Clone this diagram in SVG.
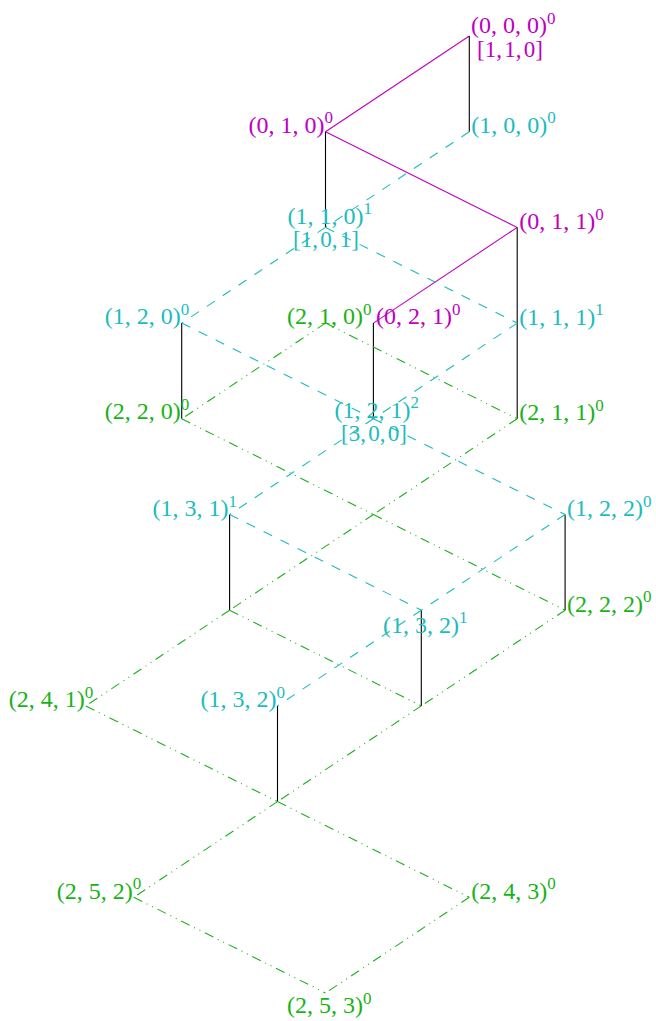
<svg xmlns="http://www.w3.org/2000/svg" width="656" height="1021" viewBox="0 0 656 1021">
<style>
.lbl{font-family:"Liberation Serif","DejaVu Serif",serif;font-size:24px}
.sup{font-size:17px}
.br{font-size:23px;word-spacing:-3.5px;text-anchor:middle}
.mag{fill:#bf00bf}
.cya{fill:#1cbcbc}
.grn{fill:#17b317}
.e{fill:none;stroke-width:1.1}
.m{stroke:#bf00bf}
.k{stroke:#000}
.c{stroke:#1cbcbc;stroke-dasharray:9.5 9.5}
.g{stroke:#17b317;stroke-dasharray:9.5 5 1 5 1 5}
</style>
<rect width="656" height="1021" fill="#fff"/>
<g id="connectors">
<line class="e m" x1="469.3" y1="36" x2="325.5" y2="131.7"/>
<line class="e m" x1="325.5" y1="131.7" x2="517.2" y2="227.4"/>
<line class="e m" x1="517.2" y1="227.4" x2="373.4" y2="323.1"/>
<line class="e k" x1="469.3" y1="36" x2="469.3" y2="131.7"/>
<line class="e k" x1="325.5" y1="131.7" x2="325.5" y2="227.4"/>
<line class="e k" x1="517.2" y1="227.4" x2="517.2" y2="323.1"/>
<line class="e k" x1="517.2" y1="323.1" x2="517.2" y2="418.8"/>
<line class="e k" x1="373.4" y1="323.1" x2="373.4" y2="418.8"/>
<line class="e k" x1="181.7" y1="323.1" x2="181.7" y2="418.8"/>
<line class="e k" x1="229.6" y1="514.5" x2="229.6" y2="610.2"/>
<line class="e k" x1="565.1" y1="514.5" x2="565.1" y2="610.2"/>
<line class="e k" x1="421.3" y1="610.2" x2="421.3" y2="705.9"/>
<line class="e k" x1="277.5" y1="705.9" x2="277.5" y2="801.6"/>
<line class="e c" x1="469.3" y1="131.7" x2="325.5" y2="227.4"/>
<line class="e c" x1="325.5" y1="227.4" x2="181.7" y2="323.1"/>
<line class="e c" x1="325.5" y1="227.4" x2="517.2" y2="323.1"/>
<line class="e c" x1="181.7" y1="323.1" x2="373.4" y2="418.8"/>
<line class="e c" x1="517.2" y1="323.1" x2="373.4" y2="418.8"/>
<line class="e c" x1="373.4" y1="418.8" x2="229.6" y2="514.5"/>
<line class="e c" x1="373.4" y1="418.8" x2="565.1" y2="514.5"/>
<line class="e c" x1="229.6" y1="514.5" x2="421.3" y2="610.2"/>
<line class="e c" x1="565.1" y1="514.5" x2="421.3" y2="610.2"/>
<line class="e c" x1="421.3" y1="610.2" x2="277.5" y2="705.9"/>
<line class="e g" x1="325.5" y1="323.1" x2="181.7" y2="418.8"/>
<line class="e g" x1="325.5" y1="323.1" x2="517.2" y2="418.8"/>
<line class="e g" x1="181.7" y1="418.8" x2="373.4" y2="514.5"/>
<line class="e g" x1="517.2" y1="418.8" x2="373.4" y2="514.5"/>
<line class="e g" x1="373.4" y1="514.5" x2="229.6" y2="610.2"/>
<line class="e g" x1="373.4" y1="514.5" x2="565.1" y2="610.2"/>
<line class="e g" x1="229.6" y1="610.2" x2="85.8" y2="705.9"/>
<line class="e g" x1="229.6" y1="610.2" x2="421.3" y2="705.9"/>
<line class="e g" x1="565.1" y1="610.2" x2="421.3" y2="705.9"/>
<line class="e g" x1="85.8" y1="705.9" x2="277.5" y2="801.6"/>
<line class="e g" x1="421.3" y1="705.9" x2="277.5" y2="801.6"/>
<line class="e g" x1="277.5" y1="801.6" x2="133.7" y2="897.3"/>
<line class="e g" x1="277.5" y1="801.6" x2="469.3" y2="897.3"/>
<line class="e g" x1="133.7" y1="897.3" x2="325.5" y2="993"/>
<line class="e g" x1="469.3" y1="897.3" x2="325.5" y2="993"/>
</g>
<g id="n000" class="lbl mag"><text x="471" y="33">(0, 0, 0)<tspan class="sup" dy="-9.5">0</tspan></text><text class="br" x="510" y="56.7">[1, 1, 0]</text></g>
<g id="n010" class="lbl mag"><text x="248.5" y="132.7">(0, 1, 0)<tspan class="sup" dy="-9.5">0</tspan></text></g>
<g id="n100" class="lbl cya"><text x="471.3" y="132.7">(1, 0, 0)<tspan class="sup" dy="-9.5">0</tspan></text></g>
<g id="n110" class="lbl cya"><text x="287.6" y="223.5">(1, 1, 0)<tspan class="sup" dy="-9.5">1</tspan></text><text class="br" x="326" y="246.5">[1, 0, 1]</text></g>
<g id="n011" class="lbl mag"><text x="519.2" y="229">(0, 1, 1)<tspan class="sup" dy="-9.5">0</tspan></text></g>
<g id="n120" class="lbl cya"><text x="104.7" y="324">(1, 2, 0)<tspan class="sup" dy="-9.5">0</tspan></text></g>
<g id="n210" class="lbl grn"><text x="287.1" y="324.3">(2, 1, 0)<tspan class="sup" dy="-9.5">0</tspan></text></g>
<g id="n021" class="lbl mag"><text x="376" y="324.3">(0, 2, 1)<tspan class="sup" dy="-9.5">0</tspan></text></g>
<g id="n111" class="lbl cya"><text x="519.2" y="324.5">(1, 1, 1)<tspan class="sup" dy="-9.5">1</tspan></text></g>
<g id="n220" class="lbl grn"><text x="104.7" y="419.3">(2, 2, 0)<tspan class="sup" dy="-9.5">0</tspan></text></g>
<g id="n121" class="lbl cya"><text x="334.6" y="417.5">(1, 2, 1)<tspan class="sup" dy="-9.5">2</tspan></text><text class="br" x="374" y="440.5">[3, 0, 0]</text></g>
<g id="n211" class="lbl grn"><text x="519.2" y="420">(2, 1, 1)<tspan class="sup" dy="-9.5">0</tspan></text></g>
<g id="n131" class="lbl cya"><text x="152.6" y="516">(1, 3, 1)<tspan class="sup" dy="-9.5">1</tspan></text></g>
<g id="n122" class="lbl cya"><text x="567.1" y="516">(1, 2, 2)<tspan class="sup" dy="-9.5">0</tspan></text></g>
<g id="n222" class="lbl grn"><text x="567.1" y="611.5">(2, 2, 2)<tspan class="sup" dy="-9.5">0</tspan></text></g>
<g id="n132a" class="lbl cya"><text x="383.1" y="632.5">(1, 3, 2)<tspan class="sup" dy="-9.5">1</tspan></text></g>
<g id="n241" class="lbl grn"><text x="8.8" y="707">(2, 4, 1)<tspan class="sup" dy="-9.5">0</tspan></text></g>
<g id="n132b" class="lbl cya"><text x="200.5" y="707">(1, 3, 2)<tspan class="sup" dy="-9.5">0</tspan></text></g>
<g id="n252" class="lbl grn"><text x="56.7" y="898.5">(2, 5, 2)<tspan class="sup" dy="-9.5">0</tspan></text></g>
<g id="n243" class="lbl grn"><text x="471.3" y="898.5">(2, 4, 3)<tspan class="sup" dy="-9.5">0</tspan></text></g>
<g id="n253" class="lbl grn"><text x="287.1" y="1013.3">(2, 5, 3)<tspan class="sup" dy="-9.5">0</tspan></text></g>
</svg>
